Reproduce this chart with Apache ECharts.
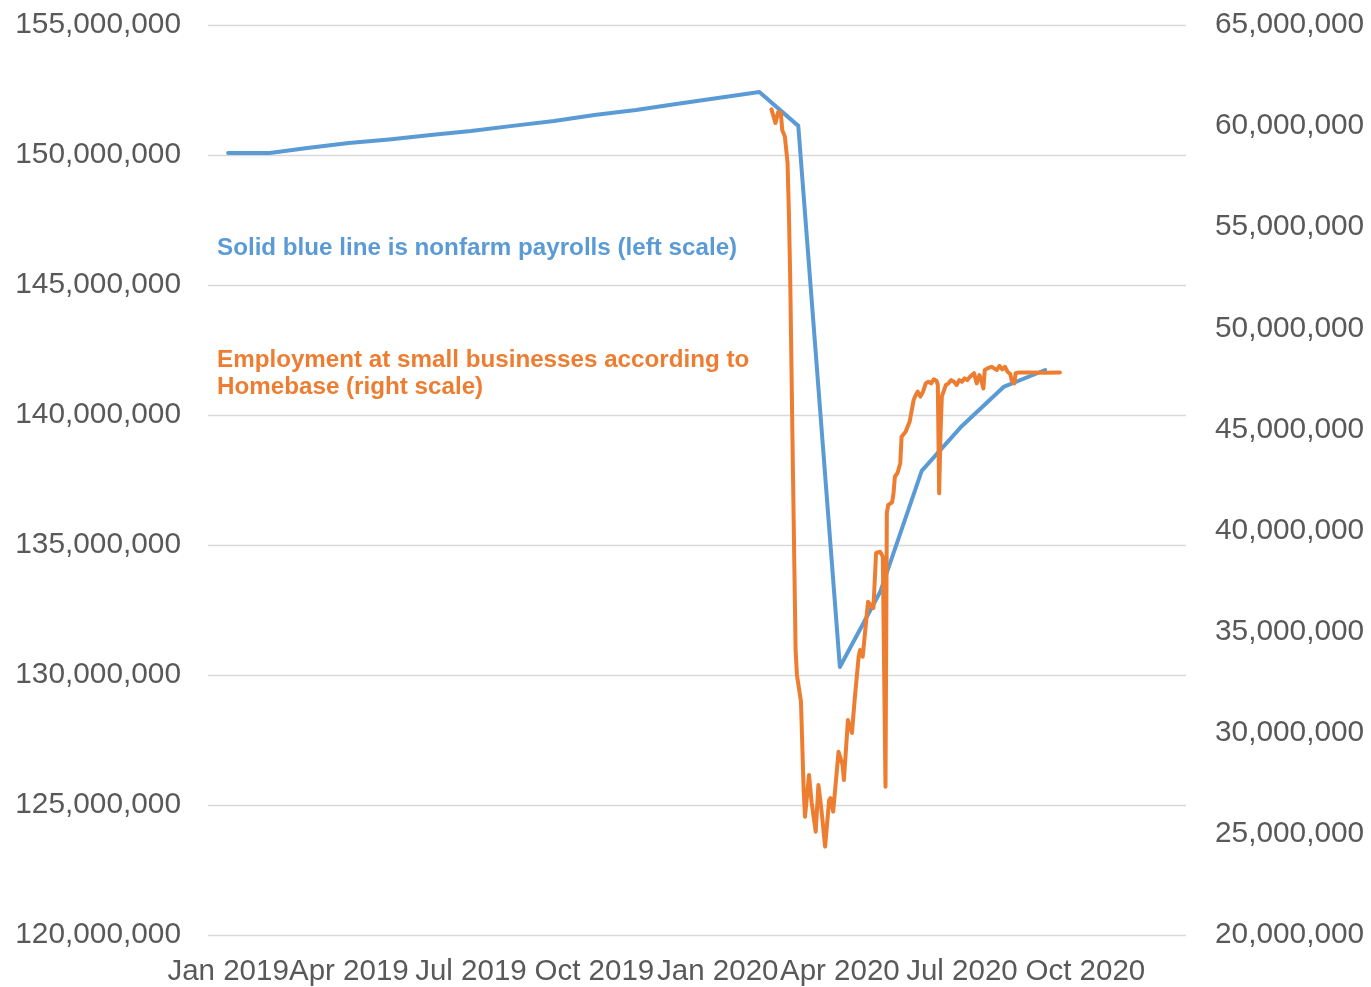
<!DOCTYPE html>
<html>
<head>
<meta charset="utf-8">
<script src="https://cdn.jsdelivr.net/npm/echarts@6/dist/echarts.min.js"></script>
<style>
  html, body { margin: 0; padding: 0; background: #ffffff; }
  #chart { width: 1371px; height: 987px; }
</style>
</head>
<body>
<div id="chart"></div>
<script>
// Nonfarm payrolls (left scale), monthly
const payrollDates = [
  '2019-01-01','2019-02-01','2019-03-01','2019-04-01','2019-05-01','2019-06-01',
  '2019-07-01','2019-08-01','2019-09-01','2019-10-01','2019-11-01','2019-12-01',
  '2020-01-01','2020-02-01','2020-03-01','2020-04-01','2020-05-01','2020-06-01',
  '2020-07-01','2020-08-01','2020-09-01'
];
const payrollValues = [
  150080000, 150080000, 150270000, 150460000, 150600000, 150770000,
  150920000, 151120000, 151310000, 151540000, 151730000, 151960000,
  152190000, 152420000, 151120000, 130310000, 133190000, 137850000,
  139580000, 141080000, 141730000
];

// Homebase small-business employment (right scale)
const homebaseDates = [
  '2020-02-10','2020-02-13','2020-02-15','2020-02-17','2020-02-18','2020-02-20',
  '2020-02-22','2020-02-23','2020-02-24','2020-02-26','2020-02-28','2020-02-29',
  '2020-03-03','2020-03-05','2020-03-06','2020-03-09','2020-03-11','2020-03-14',
  '2020-03-16','2020-03-18','2020-03-21','2020-03-24','2020-03-25','2020-03-27',
  '2020-03-31','2020-04-03','2020-04-04','2020-04-07','2020-04-10','2020-04-12',
  '2020-04-15','2020-04-16','2020-04-18','2020-04-22','2020-04-26','2020-04-28',
  '2020-05-01','2020-05-03','2020-05-05','2020-05-06','2020-05-07','2020-05-10',
  '2020-05-11','2020-05-12','2020-05-14','2020-05-16','2020-05-17','2020-05-20',
  '2020-05-22','2020-05-23','2020-05-26','2020-05-27','2020-05-29','2020-05-31',
  '2020-06-02','2020-06-04','2020-06-06','2020-06-08','2020-06-10','2020-06-12',
  '2020-06-13','2020-06-14','2020-06-15','2020-06-16','2020-06-19','2020-06-21',
  '2020-06-23','2020-06-25','2020-06-27','2020-06-29','2020-07-01','2020-07-03',
  '2020-07-05','2020-07-07','2020-07-10','2020-07-12','2020-07-14','2020-07-15',
  '2020-07-17','2020-07-18','2020-07-20','2020-07-23','2020-07-25','2020-07-27',
  '2020-07-29','2020-07-31','2020-08-02','2020-08-04','2020-08-06','2020-08-07',
  '2020-08-09','2020-08-10','2020-08-12','2020-08-20','2020-09-01','2020-09-12'
];
const homebaseValues = [
  60830000, 60150000, 60700000, 60650000, 59810000, 59480000,
  58180000, 55700000, 52390000, 43000000, 34090000, 32860000,
  31540000, 27170000, 25850000, 27910000, 26530000, 25110000,
  27420000, 26340000, 24370000, 26670000, 26770000, 26100000,
  29060000, 28410000, 27660000, 30630000, 29990000, 31620000,
  33760000, 34090000, 33760000, 36480000, 36170000, 38890000,
  38950000, 38710000, 27330000, 40870000, 41260000, 41410000,
  41860000, 42660000, 42850000, 43330000, 44640000, 44890000,
  45220000, 45380000, 46460000, 46620000, 46870000, 46620000,
  46870000, 47280000, 47360000, 47280000, 47480000, 47410000,
  47200000, 41840000, 44820000, 46620000, 47200000, 47280000,
  47440000, 47360000, 47200000, 47440000, 47360000, 47530000,
  47440000, 47610000, 47780000, 47280000, 47690000, 47530000,
  47030000, 47940000, 48020000, 48100000, 48020000, 47940000,
  48140000, 47970000, 48100000, 47850000, 47740000, 47440000,
  47280000, 47780000, 47810000, 47810000, 47800000, 47810000
];

// Axis ticks
const xTickDates = ['2019-01-01','2019-04-01','2019-07-01','2019-10-01','2020-01-01','2020-04-01','2020-07-01','2020-10-01'];
const xTickLabels = ['Jan 2019','Apr 2019','Jul 2019','Oct 2019','Jan 2020','Apr 2020','Jul 2020','Oct 2020'];
const xRange = ['2018-12-17', '2020-12-15'];
const leftAxisRange = [120000000, 155000000, 5000000];
const rightAxisRange = [20000000, 65000000, 5000000];

const blueNote = 'Solid blue line is nonfarm payrolls (left scale)';
const orangeNote = 'Employment at small businesses according to\nHomebase (right scale)';

function toTs(s) {
  const p = s.split('-').map(Number);
  return Date.UTC(p[0], p[1] - 1, p[2]);
}
const xTickTs = xTickDates.map(toTs);
const fmt = v => Math.round(v).toString().replace(/\B(?=(\d{3})+(?!\d))/g, ',');

const FONT = "'Liberation Sans', Arial, sans-serif";
const chart = echarts.init(document.getElementById('chart'), null, { renderer: 'canvas' });

chart.setOption({
  animation: false,
  backgroundColor: '#ffffff',
  grid: { left: 208, right: 185, top: 25, bottom: 52, containLabel: false },
  xAxis: {
    type: 'value',
    min: toTs(xRange[0]),
    max: toTs(xRange[1]),
    axisLine: { show: false },
    axisTick: { show: false },
    splitLine: { show: false },
    axisLabel: {
      customValues: xTickTs,
      hideOverlap: false,
      margin: 22,
      color: '#595959',
      fontFamily: FONT,
      fontSize: 29.5,
      formatter: function (v) {
        let best = 0, bd = Infinity;
        xTickTs.forEach((t, i) => { const d = Math.abs(t - v); if (d < bd) { bd = d; best = i; } });
        return xTickLabels[best];
      }
    }
  },
  yAxis: [
    {
      type: 'value',
      position: 'left',
      min: leftAxisRange[0], max: leftAxisRange[1], interval: leftAxisRange[2],
      axisLine: { show: false },
      axisTick: { show: false },
      splitLine: { show: true, lineStyle: { color: '#d9d9d9', width: 1.3 } },
      axisLabel: { margin: 27, padding: [4, 0, 0, 0], color: '#595959', fontFamily: FONT, fontSize: 29.8, formatter: fmt }
    },
    {
      type: 'value',
      position: 'right',
      min: rightAxisRange[0], max: rightAxisRange[1], interval: rightAxisRange[2],
      axisLine: { show: false },
      axisTick: { show: false },
      splitLine: { show: false },
      axisLabel: { margin: 29, padding: [4, 0, 0, 0], color: '#595959', fontFamily: FONT, fontSize: 29.8, formatter: fmt }
    }
  ],
  series: [
    {
      name: 'Nonfarm payrolls',
      type: 'line',
      yAxisIndex: 0,
      showSymbol: false,
      symbol: 'none',
      lineStyle: { color: '#5b9bd5', width: 4, join: 'round', cap: 'round' },
      data: payrollDates.map((d, i) => [toTs(d), payrollValues[i]])
    },
    {
      name: 'Homebase employment',
      type: 'line',
      yAxisIndex: 1,
      showSymbol: false,
      symbol: 'none',
      lineStyle: { color: '#ed7d31', width: 4, join: 'round', cap: 'round' },
      data: homebaseDates.map((d, i) => [toTs(d), homebaseValues[i]])
    }
  ],
  graphic: [
    {
      type: 'text', left: 217, top: 236,
      style: { text: blueNote, fill: '#5b9bd5', font: "bold 24.2px 'Liberation Sans', Arial, sans-serif" }
    },
    {
      type: 'text', left: 217, top: 347,
      style: { text: orangeNote, fill: '#ed7d31', font: "bold 24.2px 'Liberation Sans', Arial, sans-serif", lineHeight: 27 }
    }
  ]
});
</script>
</body>
</html>
